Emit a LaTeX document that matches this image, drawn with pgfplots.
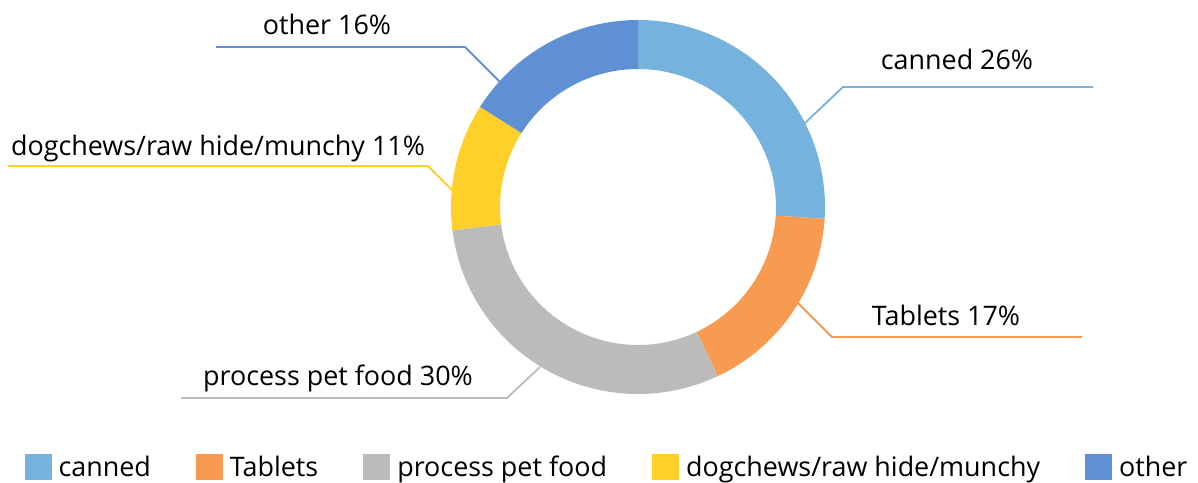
\documentclass[border=0pt]{standalone}
\usepackage{pgfplots}
\pgfplotsset{compat=1.18}
\usepackage{fontspec}
\setmainfont{Open Sans}

\definecolor{cCanned}{RGB}{117,178,221}
\definecolor{cTablets}{RGB}{247,155,81}
\definecolor{cProcess}{RGB}{187,187,187}
\definecolor{cDog}{RGB}{255,207,42}
\definecolor{cOther}{RGB}{96,144,212}

% one ring segment, from cumulative share #2 to #3 (percent), clockwise from 12 o'clock
\newcommand\slice[3]{%
  \fill[#1] ([shift={({90-3.6*#2}:187bp)}]axis cs:638,207)
    arc[start angle={90-3.6*#2}, end angle={90-3.6*#3}, radius=187bp]
    -- ([shift={({90-3.6*#3}:138bp)}]axis cs:638,207)
    arc[start angle={90-3.6*#3}, end angle={90-3.6*#2}, radius=138bp] -- cycle;}

\begin{document}
\begin{tikzpicture}[font=\fontsize{27}{32}\selectfont]
\begin{axis}[
  scale only axis, width=1198bp, height=483bp,
  xmin=0, xmax=1198, ymin=0, ymax=483, y dir=reverse,
  hide axis, clip=false,
  legend image code/.code={\path (0bp,0bp) -- (32bp,0bp);
                           \fill[#1] (0bp,-13bp) rectangle (27bp,13bp);},
  legend style={at={(axis cs:607,467)}, anchor=center, draw=none, fill=none,
    legend columns=-1, font=\fontsize{27}{32}\selectfont,
    nodes={inner sep=2bp},
    /tikz/every even column/.append style={column sep=43bp}},
]
% shares: canned 26, Tablets 17, process pet food 30, dogchews 11, other 16
\slice{cCanned}{0}{26}
\slice{cTablets}{26}{43}
\slice{cProcess}{43}{73}
\slice{cDog}{73}{84}
\slice{cOther}{84}{100}

% leader lines
\draw[cCanned, line width=1.8bp] (axis cs:805,123) -- (axis cs:843,87) -- (axis cs:1093,87);
\draw[cTablets, line width=1.8bp] (axis cs:798,303) -- (axis cs:832,337) -- (axis cs:1082,337);
\draw[cProcess, line width=1.8bp] (axis cs:540,367) -- (axis cs:507,398) -- (axis cs:181,398);
\draw[cDog, line width=1.8bp] (axis cs:452,190) -- (axis cs:428,166) -- (axis cs:8,166);
\draw[cOther, line width=1.8bp] (axis cs:500,82) -- (axis cs:465,47) -- (axis cs:216,47);

% data labels
\node[anchor=base] at (axis cs:957,70) {canned 26\%};
\node[anchor=base] at (axis cs:946,325) {Tablets 17\%};
\node[anchor=base] at (axis cs:338,385) {process pet food 30\%};
\node[anchor=base] at (axis cs:218,155) {dogchews/raw hide/munchy 11\%};
\node[anchor=base] at (axis cs:327,35) {other 16\%};

\addlegendimage{fill=cCanned, draw=none}
\addlegendentry{canned}
\addlegendimage{fill=cTablets, draw=none}
\addlegendentry{Tablets}
\addlegendimage{fill=cProcess, draw=none}
\addlegendentry{process pet food}
\addlegendimage{fill=cDog, draw=none}
\addlegendentry{dogchews/raw hide/munchy}
\addlegendimage{fill=cOther, draw=none}
\addlegendentry{other}
\end{axis}
\pgfresetboundingbox
\path (0,0) rectangle (1198bp,483bp);
\end{tikzpicture}
\end{document}
